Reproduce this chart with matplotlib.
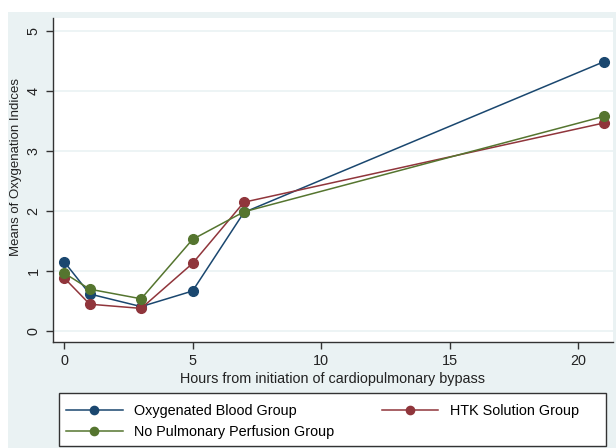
import matplotlib.pyplot as plt
import matplotlib.patches as mpatches

# data
hours = [0, 1, 3, 5, 7, 21]
oxygenated = [1.16, 0.62, 0.41, 0.67, 1.98, 4.49]
htk = [0.89, 0.45, 0.38, 1.13, 2.15, 3.47]
no_perfusion = [0.97, 0.70, 0.54, 1.53, 1.99, 3.58]

xticks = [0, 5, 10, 15, 20]
yticks = [0, 1, 2, 3, 4, 5]

bg = '#eaf2f3'
navy = '#1a476f'
maroon = '#90353b'
green = '#55752f'
fs = 10.4

plt.rcParams['font.family'] = ['Liberation Sans', 'DejaVu Sans']

fig = plt.figure(figsize=(6.16, 4.48), dpi=100)
fig.patch.set_facecolor('white')
# outer graph region (light blue-gray), white strips left/top
fig.add_artist(mpatches.Rectangle((8/616, 0), 1 - 8/616, 1 - 12/448,
                                  transform=fig.transFigure, facecolor=bg,
                                  edgecolor='none', zorder=-5))
# legend box
fig.add_artist(mpatches.Rectangle((59/616, 1 - 446/448), (606 - 59)/616, (446 - 393)/448,
                                  transform=fig.transFigure, facecolor='white',
                                  edgecolor='#333333', lw=1.0, zorder=-4))

ax = fig.add_axes([53/616, 1 - 342/448, (613 - 53)/616, (342 - 18)/448])
ax.set_facecolor('white')

ms = 7
lw = 1.1
l1, = ax.plot(hours, oxygenated, '-o', color=navy, lw=lw, ms=ms, label='Oxygenated Blood Group')
l2, = ax.plot(hours, htk, '-o', color=maroon, lw=lw, ms=ms, label='HTK Solution Group')
l3, = ax.plot(hours, no_perfusion, '-o', color=green, lw=lw, ms=ms, label='No Pulmonary Perfusion Group')

ax.set_xlim(-0.43, 21.36)
ax.set_ylim(-0.18, 5.22)
ax.set_xticks(xticks)
ax.set_yticks(yticks)
ax.yaxis.grid(True, color=bg, lw=1.2)
ax.set_axisbelow(True)
for s in ['top', 'right']:
    ax.spines[s].set_visible(False)
for s in ['left', 'bottom']:
    ax.spines[s].set_linewidth(1.0)
    ax.spines[s].set_color('#333333')
ax.tick_params(direction='out', length=5, width=1, color='#333333',
               labelsize=fs, labelcolor='#222222')
ax.tick_params(axis='y', pad=4)
for lab in ax.get_yticklabels():
    lab.set_rotation(90)
    lab.set_va('center')

ax.set_xlabel('Hours from initiation of cardiopulmonary bypass', fontsize=fs,
              color='#222222', labelpad=3)
ax.set_ylabel('Means of Oxygenation Indices', fontsize=9.5, color='#222222')
ax.yaxis.set_label_coords(-31/560, (342 - 167)/324)

leg = fig.legend([l1, l3, l2],
                 ['Oxygenated Blood Group', 'No Pulmonary Perfusion Group', 'HTK Solution Group'],
                 ncol=2, loc='upper left',
                 bbox_to_anchor=(59/616, 1 - 397/448),
                 fontsize=fs, frameon=False, markerscale=0.85,
                 handlelength=3.9, handletextpad=0.8, borderaxespad=0,
                 labelspacing=0.5, borderpad=0.5, columnspacing=3.3)

fig.savefig('out.png', dpi=100, facecolor=fig.get_facecolor())
